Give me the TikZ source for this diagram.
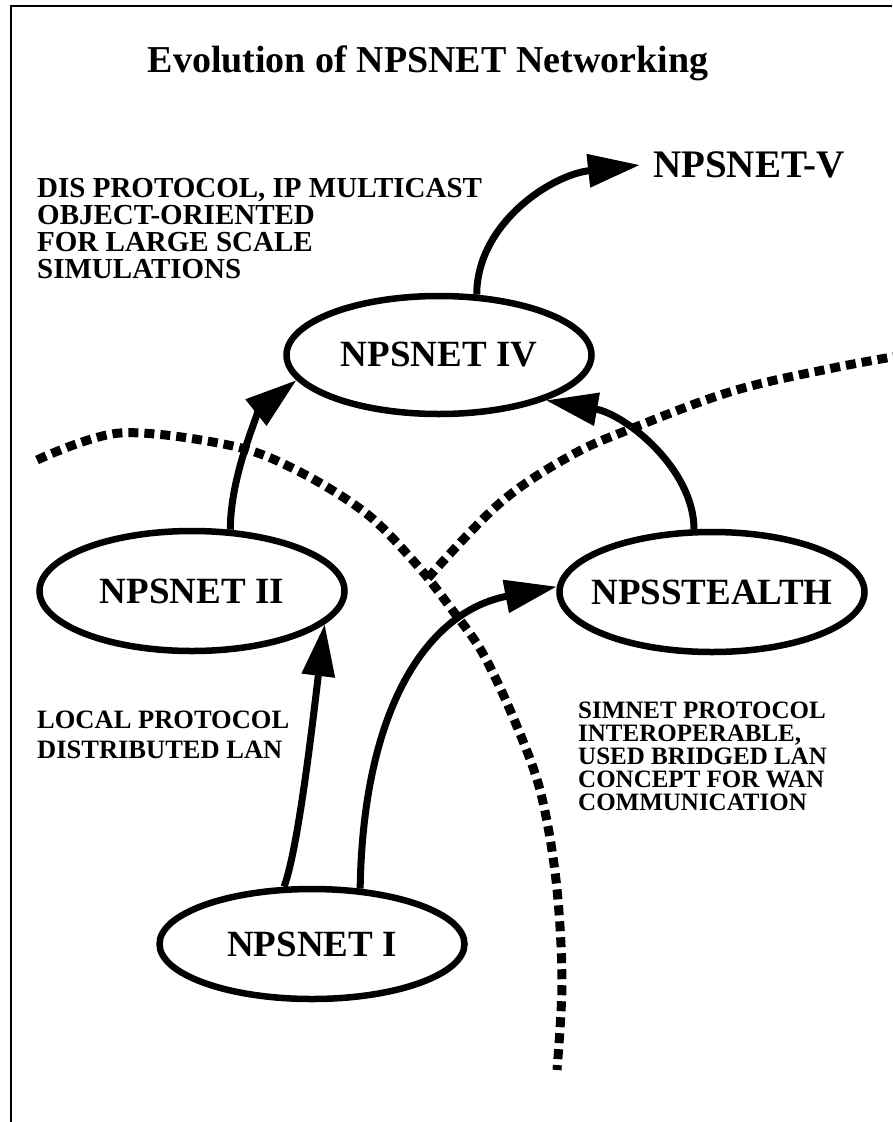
\documentclass[tikz,border=0pt]{standalone}
\usepackage{fontspec}
\setmainfont{Liberation Serif}
\usetikzlibrary{shapes.geometric,arrows.meta}
\begin{document}
\begin{tikzpicture}[x=1pt,y=-1pt,
  ell/.style={draw,ellipse,line width=6.5pt,minimum width=305pt,minimum height=118pt,inner sep=0pt},
  elltext/.style={font=\fontsize{37}{40}\selectfont\bfseries,inner sep=0pt},
  arr/.style={line width=7pt,-{Triangle[length=52pt,width=32pt]}},
  dline/.style={line width=9pt,dash pattern=on 10pt off 6pt},
  note/.style={align=left,inner sep=0pt,anchor=base west}
]
\useasboundingbox (0,0) rectangle (892,1122);
% frame
\draw[line width=2pt] (11,1122) -- (11,6) -- (892,6);
% title
\node[font=\fontsize{38}{40}\selectfont\bfseries,anchor=base,inner sep=0pt] (title) at (428,72) {Evolution of NPSNET Networking};
% dashed boundaries
\draw[dline] plot[smooth,tension=0.55] coordinates {(37,460) (120,433) (233,446) (300,472) (367,514) (417,565) (450,607) (482,652) (513,717) (540,790) (556,880) (562,980) (557,1070)};
\draw[dline] plot[smooth,tension=0.6] coordinates {(428,578) (500,503) (570,456) (633,428) (733,391) (833,368) (910,354)};
% nodes
\node[ell,label={[elltext]center:NPSNET IV}] (IV) at (439,355) {};
\node[ell,minimum height=120pt,label={[elltext]center:NPSNET II}] (II) at (192,591) {};
\node[ell,minimum height=120pt,label={[elltext]center:NPSSTEALTH}] (ST) at (712,592) {};
\node[ell,minimum height=110pt,label={[elltext]center:NPSNET I}] (I) at (312,944) {};
\node[font=\fontsize{39}{40}\selectfont\bfseries,anchor=west,inner xsep=13pt,inner ysep=0pt] (V) at (640,165) {NPSNET-V};
% notes (base anchor = last line's baseline)
\node[note,font=\fontsize{29}{27}\selectfont\bfseries] (dis) at (37,278) {DIS PROTOCOL, IP MULTICAST\\OBJECT-ORIENTED\\FOR LARGE SCALE\\SIMULATIONS};
\node[note,font=\fontsize{26.5}{30}\selectfont\bfseries] (local) at (37,758) {LOCAL PROTOCOL\\DISTRIBUTED LAN};
\node[note,font=\fontsize{25}{23}\selectfont\bfseries] (simnet) at (578,810) {SIMNET PROTOCOL\\INTEROPERABLE,\\USED BRIDGED LAN\\CONCEPT FOR WAN\\COMMUNICATION};
% arrows
\draw[arr] (I.116) .. controls +(15,-40) and +(-10,80) .. (II.-14);
\draw[arr] (I.49) .. controls +(3,-180) and +(-130,25) .. (ST.178);
\draw[arr] (II.58) .. controls +(0,-57) and +(-35,28) .. (IV.190);
\draw[arr] (ST.106) .. controls +(0,-60) and +(80,14) .. (IV.-23);
\draw[arr] (IV.58) .. controls +(0,-70) and +(-90,10) .. (V.west);
\end{tikzpicture}
\end{document}
